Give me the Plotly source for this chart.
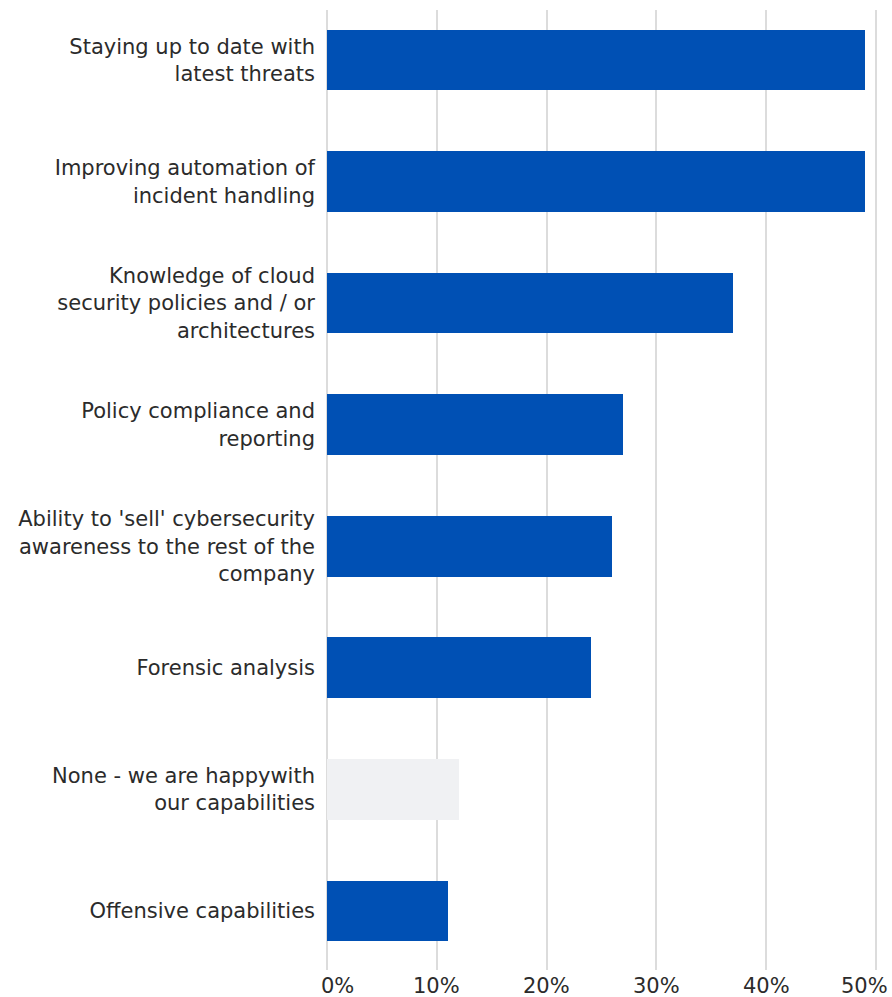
import plotly.graph_objects as go

# Skill gaps, share of respondents (%)
categories = [
    "Staying up to date with<br>latest threats",
    "Improving automation of<br>incident handling",
    "Knowledge of cloud<br>security policies and / or<br>architectures",
    "Policy compliance and<br>reporting",
    "Ability to 'sell' cybersecurity<br>awareness to the rest of the<br>company",
    "Forensic analysis",
    "None - we are happywith<br>our capabilities",
    "Offensive capabilities",
]
values = [49, 49, 37, 27, 26, 24, 12, 11]
bar_colors = ["#0050b4", "#0050b4", "#0050b4", "#0050b4", "#0050b4", "#0050b4", "#f0f1f3", "#0050b4"]
tick_values = [0, 10, 20, 30, 40, 50]
tick_labels = ["0%", "10%", "20%", "30%", "40%", "50%"]

fig = go.Figure(
    go.Bar(
        x=values,
        y=list(range(len(categories))),
        orientation="h",
        width=0.5,
        marker=dict(color=bar_colors, line=dict(width=0)),
        hoverinfo="skip",
    )
)

fig.update_layout(
    width=892,
    height=997,
    margin=dict(l=326, r=15, t=10, b=27),
    paper_bgcolor="white",
    plot_bgcolor="white",
    font=dict(family="DejaVu Sans, sans-serif", size=21, color="#2b2b2b"),
    showlegend=False,
    bargap=0,
)

fig.update_xaxes(
    range=[-0.1, 50.1],
    tickvals=tick_values,
    showticklabels=False,
    showgrid=True,
    gridcolor="#dcdcdc",
    gridwidth=2,
    zeroline=False,
    showline=False,
    ticks="",
    automargin=False,
    fixedrange=True,
)

# Percentage labels under the grid; the end labels are nudged inward so they stay on the page
for i, (tv, tl) in enumerate(zip(tick_values, tick_labels)):
    shift = 10 if i == 0 else (-11 if i == len(tick_values) - 1 else 0)
    fig.add_annotation(
        x=tv,
        xref="x",
        y=0,
        yref="paper",
        text=tl,
        showarrow=False,
        xanchor="center",
        yanchor="middle",
        xshift=shift,
        yshift=-16,
        font=dict(size=21, color="#2b2b2b"),
    )

fig.update_yaxes(
    range=[7.486, -0.411],
    tickvals=list(range(len(categories))),
    ticktext=categories,
    showgrid=False,
    zeroline=False,
    showline=False,
    ticks="",
    ticklabelstandoff=10,
    automargin=False,
    tickfont=dict(size=21, color="#2b2b2b"),
    fixedrange=True,
)

fig.write_html("out.html")
